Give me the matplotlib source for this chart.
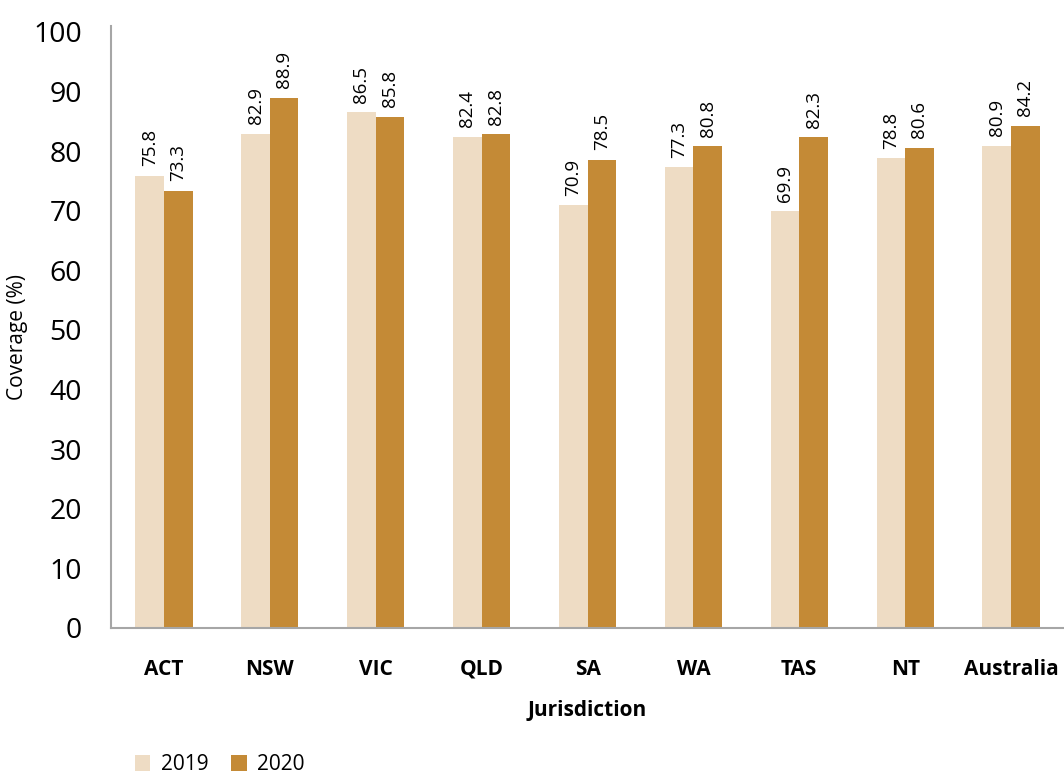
import matplotlib.pyplot as plt
import numpy as np

plt.rcParams['font.family'] = ['Open Sans', 'DejaVu Sans']

jurisdictions = ['ACT', 'NSW', 'VIC', 'QLD', 'SA', 'WA', 'TAS', 'NT', 'Australia']
cov_2019 = [75.8, 82.9, 86.5, 82.4, 70.9, 77.3, 69.9, 78.8, 80.9]
cov_2020 = [73.3, 88.9, 85.8, 82.8, 78.5, 80.8, 82.3, 80.6, 84.2]

c2019 = '#EEDCC4'
c2020 = '#C48A36'

fig = plt.figure(figsize=(10.64, 7.74), dpi=100)
ax = fig.add_axes([111 / 1064, 1 - 628 / 774, (1064 - 111) / 1064, (628 - 26) / 774])

x = np.arange(len(jurisdictions))
w = 0.27
b1 = ax.bar(x - w / 2, cov_2019, w, color=c2019, label='2019')
b2 = ax.bar(x + w / 2, cov_2020, w, color=c2020, label='2020')

# value labels, rotated like the original
for bars in (b1, b2):
    for b in bars:
        ax.annotate('%.1f' % b.get_height(), (b.get_x() + b.get_width() / 2, b.get_height()),
                    xytext=(0, 7), textcoords='offset points', rotation=90,
                    ha='center', va='bottom', fontsize=13.5)

ax.set_xlim(-0.5, len(jurisdictions) - 0.5)
ax.set_ylim(0, 101)
ax.set_yticks(range(0, 101, 10))
ax.tick_params(axis='y', length=0, labelsize=20.5, pad=21)
ax.tick_params(axis='x', length=0, pad=22)
ax.set_xticks(x)
ax.set_xticklabels(jurisdictions, fontsize=15, fontweight='bold')

ax.spines['top'].set_visible(False)
ax.spines['right'].set_visible(False)
for s in ('left', 'bottom'):
    ax.spines[s].set_color('#A6A6A6')
    ax.spines[s].set_linewidth(1.5)

ax.set_xlabel('Jurisdiction', fontsize=15, fontweight='bold', labelpad=15)
fig.text(18 / 1064, 1 - 337 / 774, 'Coverage (%)', rotation=90, fontsize=15,
         ha='center', va='center')

fig.legend(handles=[b1, b2], loc='lower left', bbox_to_anchor=(116 / 1064, -0.026),
           ncol=2, frameon=False, fontsize=15, handlelength=0.75, handleheight=0.75,
           columnspacing=1.1, handletextpad=0.5)

fig.savefig('out.png', dpi=100)
